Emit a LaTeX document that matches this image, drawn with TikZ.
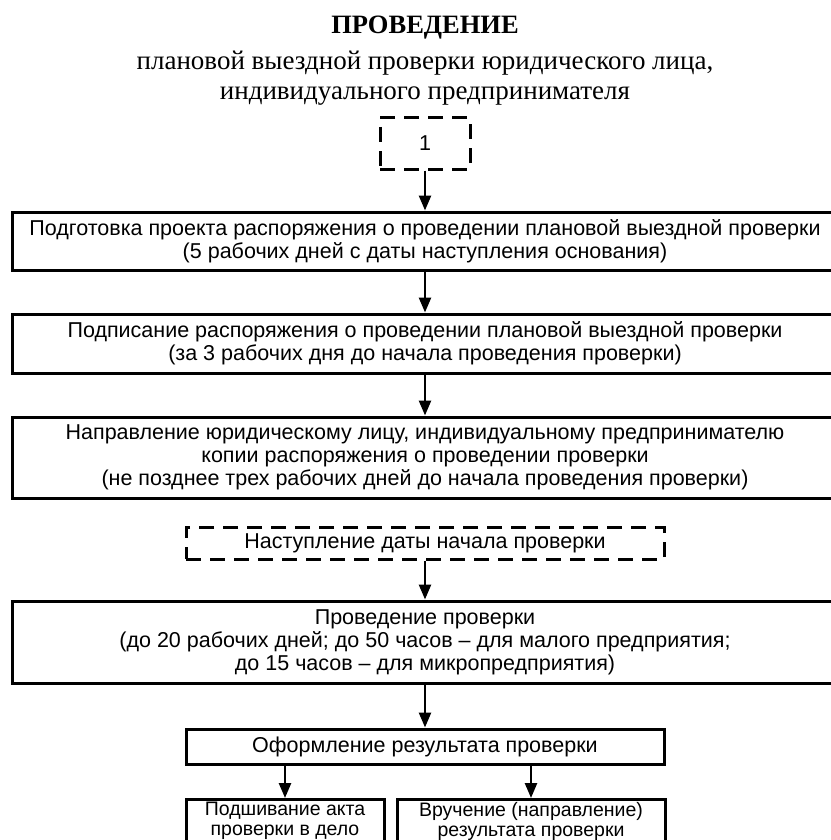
\documentclass[tikz,border=0pt]{standalone}
\usepackage{fontspec}
\setmainfont{Liberation Serif}
\newfontfamily\boxfont{Liberation Sans}
\usepackage{tikz}
\usetikzlibrary{arrows.meta}
\tikzset{every picture/.style={line width=2.5pt}}
\tikzset{
  stepbox/.style={draw, line width=3pt, align=center, inner sep=0pt,
    font=\boxfont\fontsize{21.5}{23}\selectfont},
  dashbox/.style={stepbox, dash pattern=on 15pt off 9pt},
  endbox/.style={stepbox, anchor=north, inner ysep=3pt, text depth=40pt,
    font=\boxfont\fontsize{19.5}{19.5}\selectfont},
  flow/.style={-{Triangle[length=15pt,width=12pt]}, line width=2.5pt},
}

\begin{document}
\begin{tikzpicture}[x=1pt,y=1pt,yscale=-1,xscale=1]
\useasboundingbox (0,0) rectangle (830,840);

% Text Node
\node (title) at (425,28) {\fontsize{26.5}{30}\selectfont\bfseries ПРОВЕДЕНИЕ};
% Text Node
\node (subtitle) at (425,78) [align=center, font=\fontsize{27}{30}\selectfont]
  {плановой выездной проверки юридического лица,\\индивидуального предпринимателя};

%Shape: Rectangle
\node (start) [dashbox, minimum width=90, minimum height=51] at (425,143.5) {1};
%Shape: Rectangle
\node (prep) [stepbox, minimum width=826, minimum height=58] at (425,241)
  {Подготовка проекта распоряжения о проведении плановой выездной проверки\\
   (5 рабочих дней с даты наступления основания)};
%Shape: Rectangle
\node (sign) [stepbox, minimum width=826, minimum height=59] at (425,343.5)
  {Подписание распоряжения о проведении плановой выездной проверки\\
   (за 3 рабочих дня до начала проведения проверки)};
%Shape: Rectangle
\node (notice) [stepbox, minimum width=826, minimum height=81] at (425,457.5)
  {Направление юридическому лицу, индивидуальному предпринимателю\\
   копии распоряжения о проведении проверки\\
   (не позднее трех рабочих дней до начала проведения проверки)};
%Shape: Rectangle
\node (date) [dashbox, minimum width=478, minimum height=32] at (425,543)
  {Наступление даты начала проверки};
%Shape: Rectangle
\node (check) [stepbox, minimum width=826, minimum height=82] at (425,642)
  {Проведение проверки\\
   (до 20 рабочих дней; до 50 часов – для малого предприятия;\\
   до 15 часов – для микропредприятия)};
%Shape: Rectangle
\node (result) [stepbox, minimum width=478, minimum height=35] at (425,746.5)
  {Оформление результата проверки};
%Shape: Rectangle
\node (file) [endbox, minimum width=198] at (285,798)
  {Подшивание акта\\проверки в дело};
%Shape: Rectangle
\node (hand) [endbox, minimum width=268] at (531,798)
  {Вручение (направление)\\результата проверки};

%Straight Lines
\draw [flow] (start) -- (prep);
\draw [flow] (prep) -- (sign);
\draw [flow] (sign) -- (notice);
\draw [flow] (date) -- (check);
\draw [flow] (check) -- (result);
\draw [flow] (file |- result.south) -- (file.north);
\draw [flow] (hand |- result.south) -- (hand.north);

\end{tikzpicture}
\end{document}
